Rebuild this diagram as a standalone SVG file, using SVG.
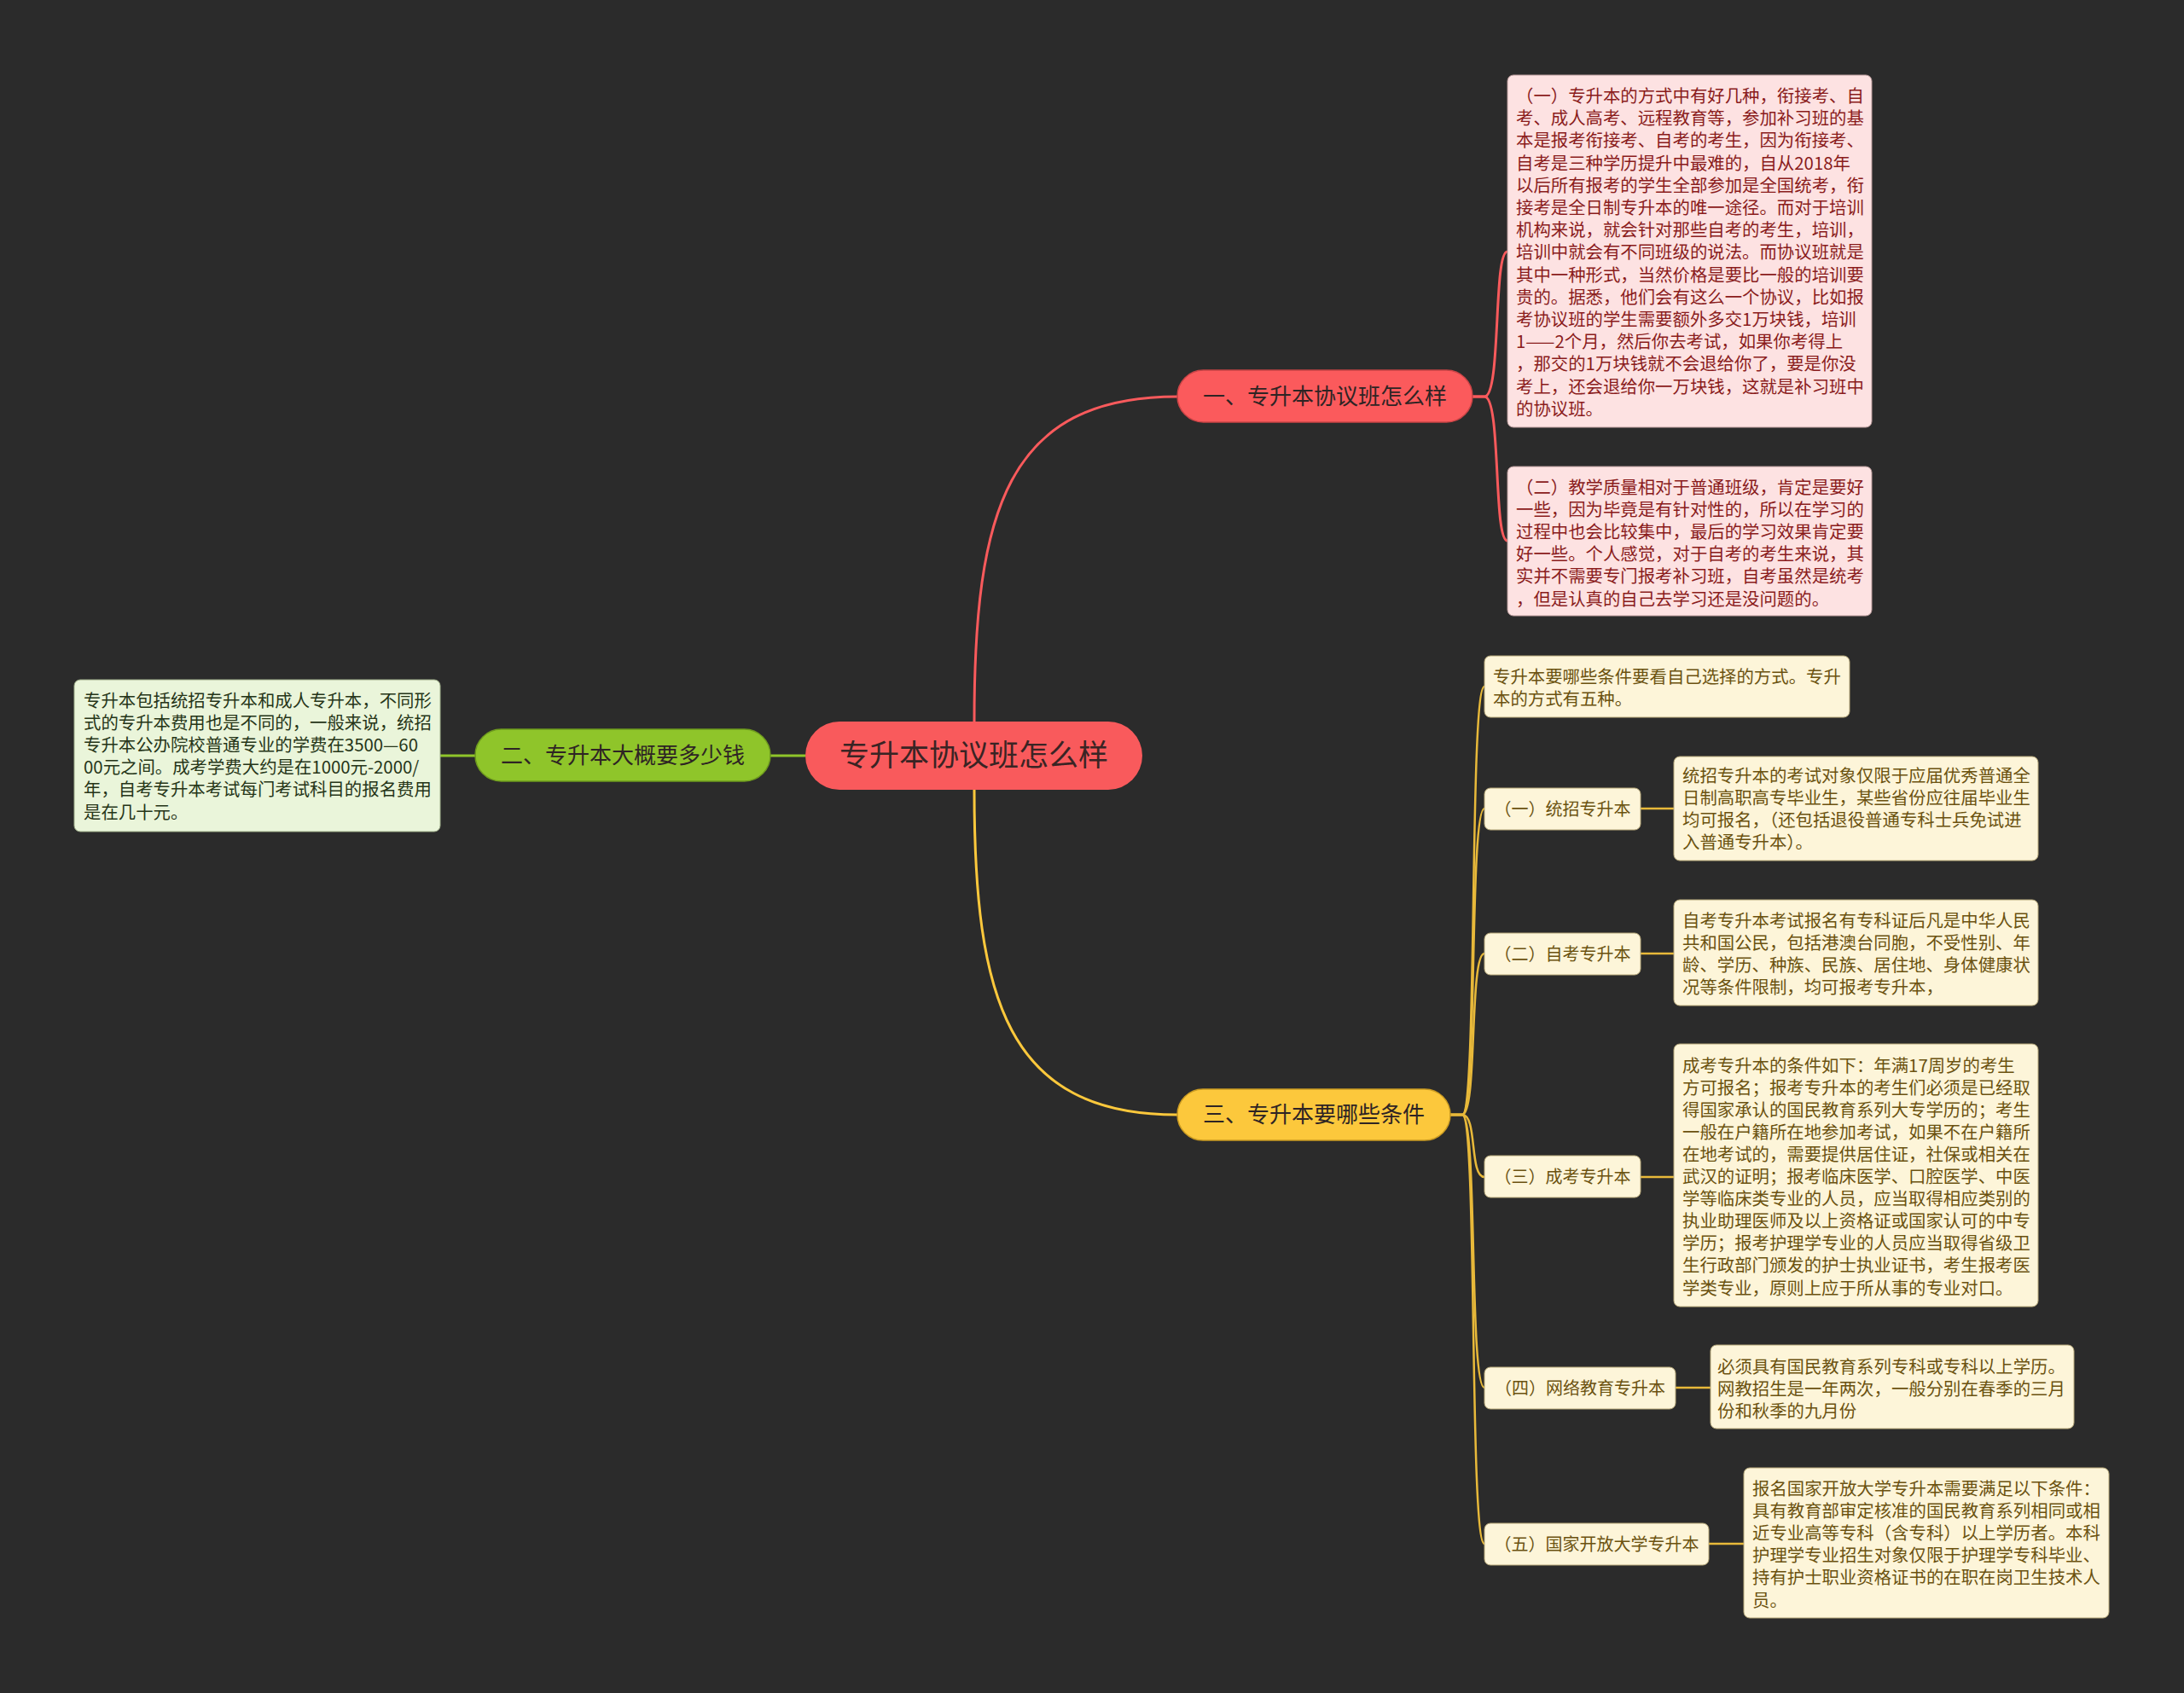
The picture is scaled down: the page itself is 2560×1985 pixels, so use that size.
<svg xmlns="http://www.w3.org/2000/svg" width="2560" height="1985" viewBox="0 0 2560 1985">
<style>
text{font-family:"Noto Sans CJK SC","Noto Sans",sans-serif;}
.root{fill:#f95a5c;}
.b1{fill:#fb5a5c;stroke:#c94446;stroke-width:1.5;}
.b2{fill:#8fc52a;stroke:#6e9a1e;stroke-width:1.5;}
.b3{fill:#fcc83c;stroke:#c99a22;stroke-width:1.5;}
.bt{font-size:26px;fill:#2e2424;text-anchor:middle;}
.rt{font-size:35px;fill:#3a2424;text-anchor:middle;}
.l1{fill:#fde2e2;stroke:#b89a9a;stroke-width:1;}
.l1t{font-size:20.4px;fill:#8a1c1c;}
.l2{fill:#eaf5da;stroke:#9fae8a;stroke-width:1;}
.l2t{font-size:20.4px;fill:#263518;}
.l3{fill:#fdf5d9;stroke:#b8a97a;stroke-width:1;}
.l3t{font-size:20.4px;fill:#6b5210;}
.st{font-size:20px;fill:#6b5210;text-anchor:middle;}
.cr{fill:none;stroke:#f95a5c;stroke-width:3;}
.cg{fill:none;stroke:#8fc52a;stroke-width:3;}
.cy{fill:none;stroke:#fcc83c;stroke-width:3;}
.cy2{fill:none;stroke:#e8b93a;stroke-width:2.5;}
</style>
<rect width="2560" height="1985" fill="#2b2b2b"/>
<g id="connectors">
<path class="cr" d="M1142,846 C1142,600 1180,465 1380,465"/>
<path class="cr" d="M1726,465 L1740,465 C1760,465 1750,295 1767,295"/>
<path class="cr" d="M1726,465 L1740,465 C1760,465 1750,634 1767,634"/>
<path class="cg" d="M944,886 L903,886"/>
<path class="cg" d="M557,886 L516,886"/>
<path class="cy" d="M1142,926 C1142,1170 1180,1307 1380,1307"/>
<path class="cy2" d="M1700,1307 L1714,1307 C1732,1307 1722,805 1740,805"/>
<path class="cy2" d="M1700,1307 L1714,1307 C1732,1307 1722,948 1740,948"/>
<path class="cy2" d="M1700,1307 L1714,1307 C1732,1307 1722,1118 1740,1118"/>
<path class="cy2" d="M1700,1307 L1714,1307 C1732,1307 1722,1380 1740,1380"/>
<path class="cy2" d="M1700,1307 L1714,1307 C1732,1307 1722,1627 1740,1627"/>
<path class="cy2" d="M1700,1307 L1714,1307 C1732,1307 1722,1810 1740,1810"/>
<path class="cy2" d="M1923,948 L1962,948"/>
<path class="cy2" d="M1923,1118 L1962,1118"/>
<path class="cy2" d="M1923,1380 L1962,1380"/>
<path class="cy2" d="M1964,1627 L2005,1627"/>
<path class="cy2" d="M2003,1810 L2044,1810"/>
</g>
<g id="root">
<rect class="root" x="944" y="846" width="395" height="80" rx="40"/>
<text class="rt" x="1141.5" y="898">专升本协议班怎么样</text>
</g>
<g id="branch1">
<rect class="b1" x="1380" y="434" width="346" height="61" rx="30.5"/>
<text class="bt" x="1553" y="474">一、专升本协议班怎么样</text>
</g>
<g id="branch2">
<rect class="b2" x="557" y="855" width="346" height="61" rx="30.5"/>
<text class="bt" x="730" y="895">二、专升本大概要多少钱</text>
</g>
<g id="branch3">
<rect class="b3" x="1380" y="1277" width="320" height="60" rx="30"/>
<text class="bt" x="1540" y="1316">三、专升本要哪些条件</text>
</g>
<g id="leaf1a">
<rect class="l1" x="1767" y="88" width="427" height="413" rx="7"/>
<text class="l1t">
<tspan x="1777" y="120">（一）专升本的方式中有好几种，衔接考、自</tspan>
<tspan x="1777" y="146.2">考、成人高考、远程教育等，参加补习班的基</tspan>
<tspan x="1777" y="172.4">本是报考衔接考、自考的考生，因为衔接考、</tspan>
<tspan x="1777" y="198.6">自考是三种学历提升中最难的，自从2018年</tspan>
<tspan x="1777" y="224.8">以后所有报考的学生全部参加是全国统考，衔</tspan>
<tspan x="1777" y="251">接考是全日制专升本的唯一途径。而对于培训</tspan>
<tspan x="1777" y="277.2">机构来说，就会针对那些自考的考生，培训，</tspan>
<tspan x="1777" y="303.4">培训中就会有不同班级的说法。而协议班就是</tspan>
<tspan x="1777" y="329.6">其中一种形式，当然价格是要比一般的培训要</tspan>
<tspan x="1777" y="355.8">贵的。据悉，他们会有这么一个协议，比如报</tspan>
<tspan x="1777" y="382">考协议班的学生需要额外多交1万块钱，培训</tspan>
<tspan x="1777" y="408.2">1——2个月，然后你去考试，如果你考得上</tspan>
<tspan x="1777" y="434.4">，那交的1万块钱就不会退给你了，要是你没</tspan>
<tspan x="1777" y="460.6">考上，还会退给你一万块钱，这就是补习班中</tspan>
<tspan x="1777" y="486.8">的协议班。</tspan>
</text>
</g>
<g id="leaf1b">
<rect class="l1" x="1767" y="547" width="427" height="175" rx="7"/>
<text class="l1t">
<tspan x="1777" y="578.5">（二）教学质量相对于普通班级，肯定是要好</tspan>
<tspan x="1777" y="604.7">一些，因为毕竟是有针对性的，所以在学习的</tspan>
<tspan x="1777" y="630.9">过程中也会比较集中，最后的学习效果肯定要</tspan>
<tspan x="1777" y="657.1">好一些。个人感觉，对于自考的考生来说，其</tspan>
<tspan x="1777" y="683.3">实并不需要专门报考补习班，自考虽然是统考</tspan>
<tspan x="1777" y="709.5">，但是认真的自己去学习还是没问题的。</tspan>
</text>
</g>
<g id="leaf2">
<rect class="l2" x="87" y="797" width="429" height="178" rx="7"/>
<text class="l2t">
<tspan x="98" y="828.5">专升本包括统招专升本和成人专升本，不同形</tspan>
<tspan x="98" y="854.7">式的专升本费用也是不同的，一般来说，统招</tspan>
<tspan x="98" y="880.9">专升本公办院校普通专业的学费在3500—60</tspan>
<tspan x="98" y="907.1">00元之间。成考学费大约是在1000元-2000/</tspan>
<tspan x="98" y="933.3">年，自考专升本考试每门考试科目的报名费用</tspan>
<tspan x="98" y="959.5">是在几十元。</tspan>
</text>
</g>
<g id="leaf3-intro">
<rect class="l3" x="1740" y="769" width="428" height="72" rx="7"/>
<text class="l3t">
<tspan x="1750" y="800.5">专升本要哪些条件要看自己选择的方式。专升</tspan>
<tspan x="1750" y="826.7">本的方式有五种。</tspan>
</text>
</g>
<g id="sub1">
<rect class="l3" x="1740" y="924" width="183" height="49" rx="7"/>
<text class="st" x="1831.5" y="955.5">（一）统招专升本</text>
</g>
<g id="sub1-leaf">
<rect class="l3" x="1962" y="887" width="427" height="122" rx="7"/>
<text class="l3t">
<tspan x="1972" y="916.5">统招专升本的考试对象仅限于应届优秀普通全</tspan>
<tspan x="1972" y="942.7">日制高职高专毕业生，某些省份应往届毕业生</tspan>
<tspan x="1972" y="968.9">均可报名，（还包括退役普通专科士兵免试进</tspan>
<tspan x="1972" y="995.1">入普通专升本）。</tspan>
</text>
</g>
<g id="sub2">
<rect class="l3" x="1740" y="1094" width="183" height="49" rx="7"/>
<text class="st" x="1831.5" y="1125.5">（二）自考专升本</text>
</g>
<g id="sub2-leaf">
<rect class="l3" x="1962" y="1055" width="427" height="124" rx="7"/>
<text class="l3t">
<tspan x="1972" y="1086.5">自考专升本考试报名有专科证后凡是中华人民</tspan>
<tspan x="1972" y="1112.7">共和国公民，包括港澳台同胞，不受性别、年</tspan>
<tspan x="1972" y="1138.9">龄、学历、种族、民族、居住地、身体健康状</tspan>
<tspan x="1972" y="1165.1">况等条件限制，均可报考专升本，</tspan>
</text>
</g>
<g id="sub3">
<rect class="l3" x="1740" y="1355" width="183" height="49" rx="7"/>
<text class="st" x="1831.5" y="1386.5">（三）成考专升本</text>
</g>
<g id="sub3-leaf">
<rect class="l3" x="1962" y="1224" width="427" height="308" rx="7"/>
<text class="l3t">
<tspan x="1972" y="1256.5">成考专升本的条件如下：年满17周岁的考生</tspan>
<tspan x="1972" y="1282.6">方可报名；报考专升本的考生们必须是已经取</tspan>
<tspan x="1972" y="1308.7">得国家承认的国民教育系列大专学历的；考生</tspan>
<tspan x="1972" y="1334.8">一般在户籍所在地参加考试，如果不在户籍所</tspan>
<tspan x="1972" y="1360.9">在地考试的，需要提供居住证，社保或相关在</tspan>
<tspan x="1972" y="1387">武汉的证明；报考临床医学、口腔医学、中医</tspan>
<tspan x="1972" y="1413.1">学等临床类专业的人员，应当取得相应类别的</tspan>
<tspan x="1972" y="1439.2">执业助理医师及以上资格证或国家认可的中专</tspan>
<tspan x="1972" y="1465.3">学历；报考护理学专业的人员应当取得省级卫</tspan>
<tspan x="1972" y="1491.4">生行政部门颁发的护士执业证书，考生报考医</tspan>
<tspan x="1972" y="1517.5">学类专业，原则上应于所从事的专业对口。</tspan>
</text>
</g>
<g id="sub4">
<rect class="l3" x="1740" y="1603" width="224" height="49" rx="7"/>
<text class="st" x="1852" y="1634.5">（四）网络教育专升本</text>
</g>
<g id="sub4-leaf">
<rect class="l3" x="2005" y="1577" width="426" height="98" rx="7"/>
<text class="l3t">
<tspan x="2013" y="1609.5">必须具有国民教育系列专科或专科以上学历。</tspan>
<tspan x="2013" y="1635.7">网教招生是一年两次，一般分别在春季的三月</tspan>
<tspan x="2013" y="1661.9">份和秋季的九月份</tspan>
</text>
</g>
<g id="sub5">
<rect class="l3" x="1740" y="1786" width="263" height="49" rx="7"/>
<text class="st" x="1871.5" y="1817.5">（五）国家开放大学专升本</text>
</g>
<g id="sub5-leaf">
<rect class="l3" x="2044" y="1721" width="428" height="176" rx="7"/>
<text class="l3t">
<tspan x="2054" y="1752.5">报名国家开放大学专升本需要满足以下条件：</tspan>
<tspan x="2054" y="1778.7">具有教育部审定核准的国民教育系列相同或相</tspan>
<tspan x="2054" y="1804.9">近专业高等专科（含专科）以上学历者。本科</tspan>
<tspan x="2054" y="1831.1">护理学专业招生对象仅限于护理学专科毕业、</tspan>
<tspan x="2054" y="1857.3">持有护士职业资格证书的在职在岗卫生技术人</tspan>
<tspan x="2054" y="1883.5">员。</tspan>
</text>
</g>
</svg>
